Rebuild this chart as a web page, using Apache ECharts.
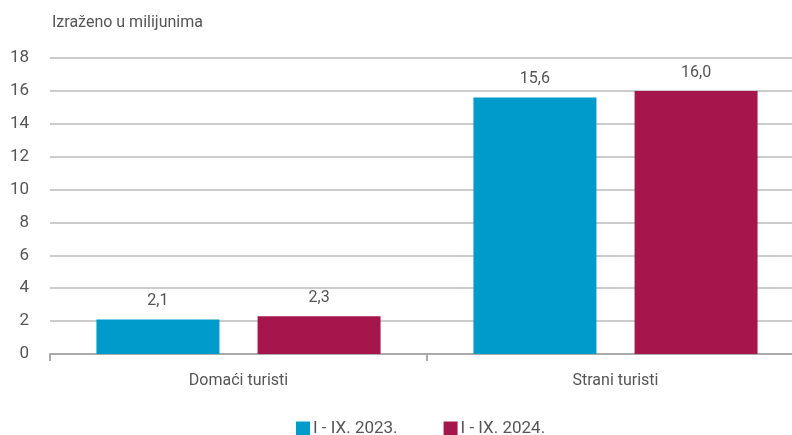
<!DOCTYPE html>
<html>
<head>
<meta charset="utf-8">
<script src="https://cdn.jsdelivr.net/npm/echarts@6/dist/echarts.min.js"></script>
<style>
    html, body { margin: 0; padding: 0; background: #fff; overflow: hidden; }
    #chart { width: 804px; height: 435px; }
</style>
</head>
<body>
<div id="chart"></div>
<script>
var categories = ['Domaći turisti', 'Strani turisti'];
var seriesNames = ['I - IX. 2023.', 'I - IX. 2024.'];
var values2023 = [2.1, 15.6];
var values2024 = [2.3, 16.0];

var textColor = '#555555';
var font = 'Roboto';

function labelFmt(p) {
    return p.value.toFixed(1).replace('.', ',');
}

function makeSeries(name, data, color) {
    return {
        name: name,
        type: 'bar',
        data: data,
        barWidth: 123,
        barGap: '31%',
        itemStyle: { color: color },
        label: {
            show: true,
            position: 'top',
            distance: 10,
            color: textColor,
            fontFamily: font,
            fontSize: 16,
            formatter: labelFmt
        }
    };
}

var chart = echarts.init(document.getElementById('chart'));
var option = {
    animation: false,
    textStyle: { fontFamily: font },
    grid: { left: 50, right: 0, top: 58, bottom: 81, containLabel: false },
    legend: {
        data: seriesNames,
        top: 415,
        left: 291,
        icon: 'rect',
        itemWidth: 14,
        itemHeight: 14,
        itemGap: 46,
        textStyle: { color: textColor, fontSize: 17, fontFamily: font, padding: [0, 0, 0, -2] }
    },
    xAxis: {
        type: 'category',
        data: categories,
        axisLine: { lineStyle: { color: '#aaaaaa', width: 2 } },
        axisTick: { show: true, length: 7, lineStyle: { color: '#aaaaaa', width: 2 } },
        axisLabel: { color: textColor, fontSize: 16, fontFamily: font, margin: 19 }
    },
    yAxis: {
        type: 'value',
        min: 0,
        max: 18,
        interval: 2,
        name: 'Izraženo u milijunima',
        nameLocation: 'end',
        nameGap: 27,
        nameTextStyle: { color: textColor, fontSize: 16, fontFamily: font, align: 'left', padding: [0, 0, 0, 2] },
        axisLine: { show: false },
        axisTick: { show: false },
        axisLabel: { color: textColor, fontSize: 17, fontFamily: font, margin: 21 },
        splitLine: { lineStyle: { color: '#cccccc', width: 2 } }
    },
    series: [
        makeSeries(seriesNames[0], values2023, '#009bcb'),
        makeSeries(seriesNames[1], values2024, '#a5174c')
    ]
};
chart.setOption(option);
</script>
</body>
</html>
